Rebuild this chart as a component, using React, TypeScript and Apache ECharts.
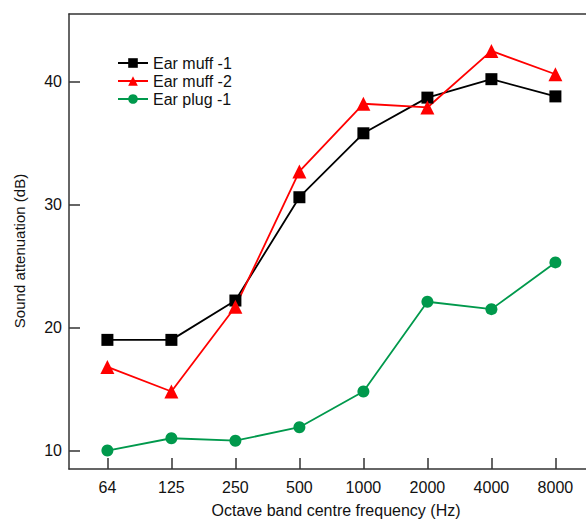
import React, { useEffect, useRef } from "react";
import * as echarts from "echarts";

const frequencies = ["64", "125", "250", "500", "1000", "2000", "4000", "8000"];
const earMuff1 = [19.0, 19.0, 22.2, 30.6, 35.8, 38.7, 40.2, 38.8];
const earMuff2 = [16.8, 14.8, 21.7, 32.7, 38.2, 37.9, 42.5, 40.6];
const earPlug1 = [10.0, 11.0, 10.8, 11.9, 14.8, 22.1, 21.5, 25.3];
const yTicks = [10, 20, 30, 40];

const FONT = "'Liberation Sans', Arial, sans-serif";
const AXIS_COLOR = "#333333";

export default function App() {
  const ref = useRef<HTMLDivElement>(null);
  useEffect(() => {
    document.body.style.margin = "0";
    const chart = echarts.init(ref.current!, null, { renderer: "svg" });
    const idx = frequencies.map((_, i) => i);
    const toData = (arr: number[]) => arr.map((v, i) => [i, v]);
    const axisLineStyle = { color: AXIS_COLOR, width: 1.5 };
    chart.setOption({
      animation: false,
      backgroundColor: "#ffffff",
      textStyle: { fontFamily: FONT },
      grid: {
        left: 69,
        right: 0,
        top: 14,
        bottom: 50,
        show: false,
      },
      legend: {
        orient: "vertical",
        left: 112,
        top: 50,
        itemWidth: 30,
        itemHeight: 12,
        itemGap: 2,
        textStyle: { fontSize: 16, lineHeight: 16, color: "#111", fontFamily: FONT },
        data: ["Ear muff -1", "Ear muff -2", "Ear plug -1"],
      },
      xAxis: [
        {
          type: "value",
          min: -0.6,
          max: 7.478,
          axisLine: { show: true, onZero: false, lineStyle: axisLineStyle },
          axisTick: {
            show: true,
            inside: true,
            length: 11,
            customValues: idx,
            lineStyle: axisLineStyle,
          },
          axisLabel: {
            customValues: idx,
            formatter: (v: number) => frequencies[Math.round(v)] ?? "",
            fontSize: 16,
            color: "#111",
            margin: 10,
            fontFamily: FONT,
          },
          splitLine: { show: false },
        },
        {
          type: "value",
          position: "top",
          min: -0.6,
          max: 7.478,
          axisLine: { show: true, onZero: false, lineStyle: axisLineStyle },
          axisTick: { show: false },
          axisLabel: { show: false },
          splitLine: { show: false },
        },
      ],
      yAxis: {
        type: "value",
        min: 8.5,
        max: 45.5,
        axisLine: { show: true, onZero: false, lineStyle: axisLineStyle },
        axisTick: {
          show: true,
          inside: true,
          length: 11,
          customValues: yTicks,
          lineStyle: axisLineStyle,
        },
        axisLabel: {
          customValues: yTicks,
          fontSize: 16,
          color: "#111",
          margin: 7,
          fontFamily: FONT,
        },
        splitLine: { show: false },
      },
      graphic: [
        {
          type: "text",
          x: 336,
          y: 510,
          style: {
            text: "Octave band centre frequency (Hz)",
            font: `16px ${FONT}`,
            fill: "#111",
            align: "center",
            verticalAlign: "middle",
          },
        },
        {
          type: "text",
          x: 19,
          y: 251,
          rotation: Math.PI / 2,
          style: {
            text: "Sound attenuation (dB)",
            font: `15px ${FONT}`,
            fill: "#111",
            align: "center",
            verticalAlign: "middle",
          },
        },
      ],
      series: [
        {
          name: "Ear muff -1",
          type: "line",
          data: toData(earMuff1),
          symbol: "rect",
          symbolSize: 12,
          itemStyle: { color: "#000000" },
          lineStyle: { color: "#000000", width: 1.8 },
        },
        {
          name: "Ear muff -2",
          type: "line",
          data: toData(earMuff2),
          symbol: "triangle",
          symbolSize: 14,
          itemStyle: { color: "#ff0000" },
          lineStyle: { color: "#ff0000", width: 1.8 },
        },
        {
          name: "Ear plug -1",
          type: "line",
          data: toData(earPlug1),
          symbol: "circle",
          symbolSize: 12,
          itemStyle: { color: "#00994c" },
          lineStyle: { color: "#00994c", width: 1.8 },
        },
      ],
    });
    return () => chart.dispose();
  }, []);
  return <div ref={ref} style={{ width: 586, height: 519 }} />;
}
